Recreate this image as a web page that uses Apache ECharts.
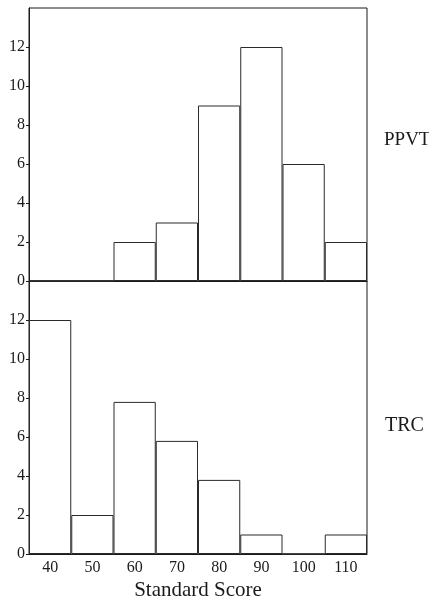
<!DOCTYPE html>
<html>
<head>
<meta charset="utf-8">
<script src="https://cdn.jsdelivr.net/npm/echarts@6/dist/echarts.min.js"></script>
<style>
  html, body { margin: 0; padding: 0; background: #fff; }
  #chart { width: 429px; height: 598px; }
</style>
</head>
<body>
<div id="chart"></div>
<script>
// 分数段 (bin centres)
const scoreBins = ['40', '50', '60', '70', '80', '90', '100', '110']
// 频数
const ppvtCounts = [0, 0, 2, 3, 9, 12, 6, 2]
const trcCounts = [12, 2, 7.8, 5.8, 3.8, 1, 0, 1]
const yTicks = [0, 2, 4, 6, 8, 10, 12]
const panelNames = ['PPVT', 'TRC']

const serif = 'Liberation Serif'
const ink = '#1a1a1a'

function yAxisFor(gridIndex) {
    return {
        type: 'value',
        gridIndex: gridIndex,
        min: 0,
        max: 14,
        interval: 2,
        axisLine: { show: true, lineStyle: { color: ink, width: 1 } },
        axisTick: { show: true, length: 3, customValues: yTicks, lineStyle: { color: ink } },
        splitLine: { show: false },
        axisLabel: {
            color: ink,
            fontFamily: serif,
            fontSize: 16,
            margin: 4,
            customValues: yTicks
        }
    }
}

function xAxisFor(gridIndex, withLabels) {
    return {
        type: 'category',
        gridIndex: gridIndex,
        data: scoreBins,
        boundaryGap: true,
        axisLine: { show: true, lineStyle: { color: ink, width: 1 } },
        axisTick: { show: false },
        axisLabel: {
            show: withLabels,
            color: ink,
            fontFamily: serif,
            fontSize: 16,
            margin: 6
        },
        name: withLabels ? 'Standard Score' : '',
        nameLocation: 'middle',
        nameGap: 26,
        nameTextStyle: { color: ink, fontFamily: serif, fontSize: 21 }
    }
}

function barSeries(idx, values) {
    return {
        type: 'bar',
        xAxisIndex: idx,
        yAxisIndex: idx,
        data: values,
        barWidth: '100%',
        barCategoryGap: '0%',
        itemStyle: { color: '#fff', borderColor: '#2a2a2a', borderWidth: 1 },
        emphasis: { disabled: true },
        animation: false
    }
}

const option = {
    backgroundColor: '#fff',
    animation: false,
    title: [
        {
            text: panelNames[0],
            left: 379,
            top: 126,
            textStyle: { color: ink, fontFamily: serif, fontSize: 19, fontWeight: 'normal' }
        },
        {
            text: panelNames[1],
            left: 380,
            top: 411,
            textStyle: { color: ink, fontFamily: serif, fontSize: 20, fontWeight: 'normal' }
        }
    ],
    grid: [
        { left: 29, top: 8, width: 338, height: 273, show: true, borderColor: ink, borderWidth: 1, outerBoundsMode: 'none' },
        { left: 29, top: 281, width: 338, height: 273, show: true, borderColor: ink, borderWidth: 1, outerBoundsMode: 'none' }
    ],
    xAxis: [xAxisFor(0, false), xAxisFor(1, true)],
    yAxis: [yAxisFor(0), yAxisFor(1)],
    series: [barSeries(0, ppvtCounts), barSeries(1, trcCounts)]
}

const myChart = echarts.init(document.getElementById('chart'))
myChart.setOption(option)
</script>
</body>
</html>
